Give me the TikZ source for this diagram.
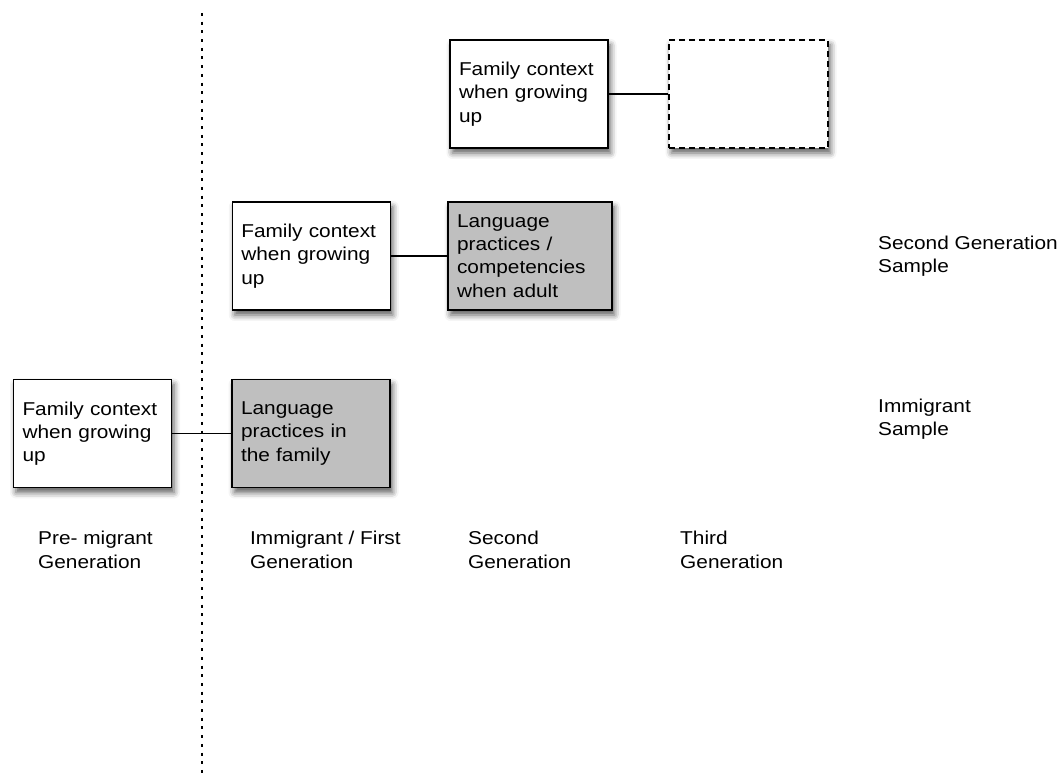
\documentclass[tikz,border=0pt]{standalone}
\usepackage{fontspec}
\setmainfont{Liberation Sans}[FakeStretch=1.12]
\usepackage{tikz}
\usetikzlibrary{positioning, shadows.blur}
\tikzstyle{basebox} = [draw, line width=1.6pt, minimum height=108pt, inner xsep=9pt, inner ysep=0pt, align=left,
  font=\fontsize{18.6pt}{23.3pt}\selectfont,
  blur shadow={shadow xshift=2.5pt, shadow yshift=-5pt, shadow opacity=65, shadow blur radius=6pt}]
\tikzstyle{ctxbox} = [basebox, fill=white, text width=140pt]
\tikzstyle{langbox} = [basebox, fill=black!25, text width=140pt]
\tikzstyle{emptybox} = [basebox, fill=white, dash pattern=on 6pt off 4pt, minimum width=159pt]
\tikzstyle{genlabel} = [anchor=west, align=left, inner sep=0pt, font=\fontsize{18.6pt}{23.3pt}\selectfont]
\tikzstyle{link} = [line width=1.3pt]

\begin{document}
\begin{tikzpicture}[x=1pt, y=1pt]
\useasboundingbox (0, 0) rectangle (1062, 774);

% Generation divider
\draw [line width=2pt, dash pattern=on 3pt off 5.7pt] (202, 761) -- (202, 0);

% Immigrant sample row
\node [ctxbox] (famLow) at (92.5, 340.5) {Family context\\when growing\\up};
\node [langbox] (langLow) at (311, 340.5) {Language\\practices in\\the family};
\draw [link] (famLow) -- (langLow);

% Second generation row
\node [ctxbox] (famMid) at (311.3, 518) {Family context\\when growing\\up};
\node [langbox, text width=146pt] (langMid) at (530, 518) {Language\\practices /\\competencies\\when adult};
\draw [link] (famMid) -- (langMid);

% Third generation row
\node [ctxbox] (famTop) at (529, 680) {Family context\\when growing\\up};
\node [emptybox] (emptyTop) at (748.5, 680) {};
\draw [link] (famTop) -- (emptyTop);

% Samples
\node [genlabel] (secSample) at (878, 517.5) {Second Generation\\Sample};
\node [genlabel] (immSample) at (878, 354.5) {Immigrant\\Sample};

% Generations
\node [genlabel] (genPre) at (38, 224) {Pre- migrant\\Generation};
\node [genlabel] (genFirst) at (250, 224) {Immigrant / First\\Generation};
\node [genlabel] (genSecond) at (468, 224) {Second\\Generation};
\node [genlabel] (genThird) at (680, 224) {Third\\Generation};

\end{tikzpicture}
\end{document}
